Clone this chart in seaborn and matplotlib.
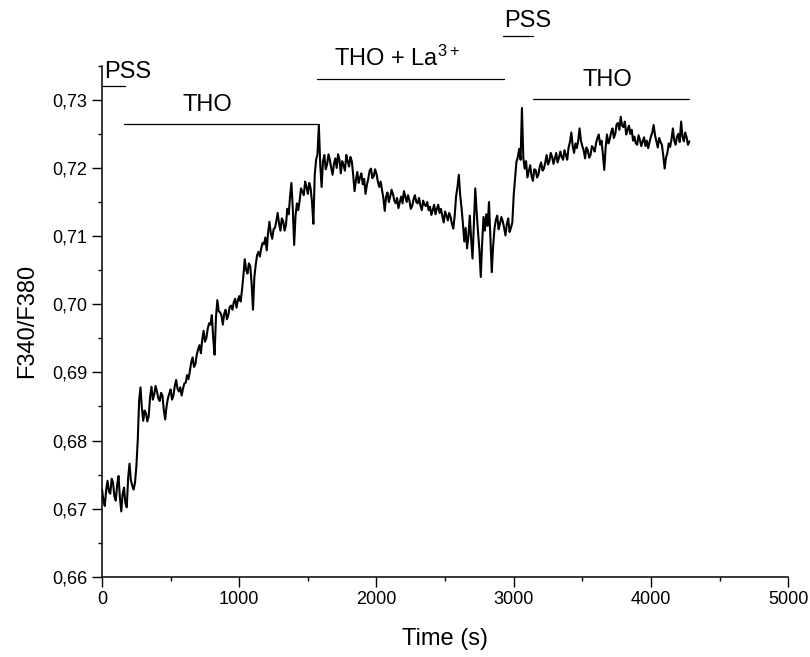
import numpy as np
import pandas as pd
import seaborn as sns
import matplotlib.pyplot as plt
from matplotlib.ticker import FuncFormatter, MultipleLocator

time_s = [
    0, 10, 20, 30, 40, 50, 60, 70, 80, 90, 100, 110, 120, 130, 140, 150, 160, 170, 180, 190,
    200, 210, 220, 230, 240, 250, 260, 270, 280, 290, 300, 310, 320, 330, 340, 350, 360, 370, 380, 390,
    400, 410, 420, 430, 440, 450, 460, 470, 480, 490, 500, 510, 520, 530, 540, 550, 560, 570, 580, 590,
    600, 610, 620, 630, 640, 650, 660, 670, 680, 690, 700, 710, 720, 730, 740, 750, 760, 770, 780, 790,
    800, 810, 820, 830, 840, 850, 860, 870, 880, 890, 900, 910, 920, 930, 940, 950, 960, 970, 980, 990,
    1000, 1010, 1020, 1030, 1040, 1050, 1060, 1070, 1080, 1090, 1100, 1110, 1120, 1130, 1140, 1150, 1160, 1170, 1180, 1190,
    1200, 1210, 1220, 1230, 1240, 1250, 1260, 1270, 1280, 1290, 1300, 1310, 1320, 1330, 1340, 1350, 1360, 1370, 1380, 1390,
    1400, 1410, 1420, 1430, 1440, 1450, 1460, 1470, 1480, 1490, 1500, 1510, 1520, 1530, 1540, 1550, 1560, 1570, 1580, 1590,
    1600, 1610, 1620, 1630, 1640, 1650, 1660, 1670, 1680, 1690, 1700, 1710, 1720, 1730, 1740, 1750, 1760, 1770, 1780, 1790,
    1800, 1810, 1820, 1830, 1840, 1850, 1860, 1870, 1880, 1890, 1900, 1910, 1920, 1930, 1940, 1950, 1960, 1970, 1980, 1990,
    2000, 2010, 2020, 2030, 2040, 2050, 2060, 2070, 2080, 2090, 2100, 2110, 2120, 2130, 2140, 2150, 2160, 2170, 2180, 2190,
    2200, 2210, 2220, 2230, 2240, 2250, 2260, 2270, 2280, 2290, 2300, 2310, 2320, 2330, 2340, 2350, 2360, 2370, 2380, 2390,
    2400, 2410, 2420, 2430, 2440, 2450, 2460, 2470, 2480, 2490, 2500, 2510, 2520, 2530, 2540, 2550, 2560, 2570, 2580, 2590,
    2600, 2610, 2620, 2630, 2640, 2650, 2660, 2670, 2680, 2690, 2700, 2710, 2720, 2730, 2740, 2750, 2760, 2770, 2780, 2790,
    2800, 2810, 2820, 2830, 2840, 2850, 2860, 2870, 2880, 2890, 2900, 2910, 2920, 2930, 2940, 2950, 2960, 2970, 2980, 2990,
    3000, 3010, 3020, 3030, 3040, 3050, 3060, 3070, 3080, 3090, 3100, 3110, 3120, 3130, 3140, 3150, 3160, 3170, 3180, 3190,
    3200, 3210, 3220, 3230, 3240, 3250, 3260, 3270, 3280, 3290, 3300, 3310, 3320, 3330, 3340, 3350, 3360, 3370, 3380, 3390,
    3400, 3410, 3420, 3430, 3440, 3450, 3460, 3470, 3480, 3490, 3500, 3510, 3520, 3530, 3540, 3550, 3560, 3570, 3580, 3590,
    3600, 3610, 3620, 3630, 3640, 3650, 3660, 3670, 3680, 3690, 3700, 3710, 3720, 3730, 3740, 3750, 3760, 3770, 3780, 3790,
    3800, 3810, 3820, 3830, 3840, 3850, 3860, 3870, 3880, 3890, 3900, 3910, 3920, 3930, 3940, 3950, 3960, 3970, 3980, 3990,
    4000, 4010, 4020, 4030, 4040, 4050, 4060, 4070, 4080, 4090, 4100, 4110, 4120, 4130, 4140, 4150, 4160, 4170, 4180, 4190,
    4200, 4210, 4220, 4230, 4240, 4250, 4260, 4270, 4280,
]
ratio = [
    0.6728, 0.6712, 0.6704, 0.6728, 0.6741, 0.6725, 0.6722, 0.6744, 0.6738, 0.6718, 0.6712, 0.6735, 0.6748, 0.6716, 0.6696, 0.6722, 0.6731, 0.6708, 0.6702, 0.6745,
    0.6766, 0.6742, 0.6734, 0.6728, 0.6738, 0.6762, 0.6800, 0.6858, 0.6878, 0.6848, 0.6829, 0.6844, 0.6840, 0.6828, 0.6836, 0.6864, 0.6879, 0.6860, 0.6868, 0.6880,
    0.6872, 0.6862, 0.6858, 0.6870, 0.6866, 0.6845, 0.6831, 0.6850, 0.6862, 0.6869, 0.6875, 0.6860, 0.6866, 0.6880, 0.6889, 0.6876, 0.6872, 0.6878, 0.6866, 0.6876,
    0.6884, 0.6885, 0.6896, 0.6890, 0.6902, 0.6915, 0.6922, 0.6908, 0.6912, 0.6926, 0.6934, 0.6940, 0.6928, 0.6948, 0.6961, 0.6945, 0.6950, 0.6964, 0.6972, 0.6970,
    0.6984, 0.6950, 0.6926, 0.6980, 0.7006, 0.6990, 0.6988, 0.6984, 0.6970, 0.6986, 0.6992, 0.6978, 0.6984, 0.6996, 0.6998, 0.6992, 0.7003, 0.7008, 0.6995, 0.7006,
    0.7012, 0.7004, 0.7021, 0.7042, 0.7066, 0.7050, 0.7045, 0.7060, 0.7056, 0.7030, 0.6992, 0.7040, 0.7058, 0.7072, 0.7077, 0.7070, 0.7082, 0.7090, 0.7088, 0.7098,
    0.7079, 0.7105, 0.7121, 0.7104, 0.7096, 0.7110, 0.7112, 0.7122, 0.7134, 0.7118, 0.7108, 0.7126, 0.7122, 0.7108, 0.7116, 0.7140, 0.7132, 0.7158, 0.7178, 0.7140,
    0.7087, 0.7130, 0.7148, 0.7138, 0.7152, 0.7170, 0.7165, 0.7160, 0.7180, 0.7172, 0.7162, 0.7178, 0.7170, 0.7150, 0.7118, 0.7190, 0.7212, 0.7220, 0.7263, 0.7205,
    0.7172, 0.7210, 0.7219, 0.7198, 0.7205, 0.7220, 0.7212, 0.7200, 0.7190, 0.7206, 0.7214, 0.7200, 0.7220, 0.7212, 0.7192, 0.7210, 0.7204, 0.7196, 0.7219, 0.7210,
    0.7202, 0.7216, 0.7210, 0.7190, 0.7166, 0.7182, 0.7194, 0.7178, 0.7186, 0.7192, 0.7176, 0.7184, 0.7162, 0.7175, 0.7184, 0.7196, 0.7199, 0.7185, 0.7188, 0.7198,
    0.7191, 0.7180, 0.7172, 0.7180, 0.7168, 0.7156, 0.7137, 0.7158, 0.7164, 0.7150, 0.7158, 0.7168, 0.7162, 0.7152, 0.7148, 0.7156, 0.7141, 0.7150, 0.7158, 0.7148,
    0.7166, 0.7158, 0.7150, 0.7160, 0.7152, 0.7140, 0.7144, 0.7154, 0.7160, 0.7150, 0.7148, 0.7156, 0.7145, 0.7138, 0.7152, 0.7146, 0.7144, 0.7150, 0.7138, 0.7143,
    0.7131, 0.7138, 0.7146, 0.7132, 0.7140, 0.7146, 0.7134, 0.7140, 0.7129, 0.7120, 0.7136, 0.7130, 0.7123, 0.7134, 0.7128, 0.7118, 0.7111, 0.7130, 0.7158, 0.7172,
    0.7190, 0.7160, 0.7141, 0.7118, 0.7092, 0.7112, 0.7082, 0.7100, 0.7130, 0.7095, 0.7067, 0.7120, 0.7170, 0.7135, 0.7106, 0.7080, 0.7040, 0.7090, 0.7128, 0.7108,
    0.7132, 0.7115, 0.7150, 0.7100, 0.7047, 0.7085, 0.7111, 0.7124, 0.7130, 0.7110, 0.7118, 0.7128, 0.7122, 0.7112, 0.7101, 0.7118, 0.7126, 0.7106, 0.7112, 0.7120,
    0.7160, 0.7185, 0.7209, 0.7216, 0.7228, 0.7212, 0.7288, 0.7215, 0.7199, 0.7210, 0.7186, 0.7195, 0.7204, 0.7188, 0.7181, 0.7198, 0.7197, 0.7186, 0.7190, 0.7202,
    0.7208, 0.7196, 0.7199, 0.7208, 0.7219, 0.7205, 0.7210, 0.7222, 0.7216, 0.7206, 0.7214, 0.7222, 0.7208, 0.7215, 0.7224, 0.7216, 0.7212, 0.7226, 0.7219, 0.7212,
    0.7230, 0.7238, 0.7252, 0.7232, 0.7222, 0.7236, 0.7229, 0.7240, 0.7258, 0.7240, 0.7232, 0.7226, 0.7214, 0.7230, 0.7226, 0.7215, 0.7219, 0.7232, 0.7229, 0.7224,
    0.7236, 0.7244, 0.7249, 0.7234, 0.7240, 0.7220, 0.7197, 0.7230, 0.7249, 0.7236, 0.7242, 0.7252, 0.7258, 0.7244, 0.7250, 0.7264, 0.7266, 0.7256, 0.7275, 0.7262,
    0.7260, 0.7268, 0.7249, 0.7256, 0.7262, 0.7250, 0.7256, 0.7240, 0.7246, 0.7236, 0.7234, 0.7248, 0.7241, 0.7232, 0.7239, 0.7245, 0.7232, 0.7240, 0.7229, 0.7238,
    0.7246, 0.7252, 0.7263, 0.7248, 0.7239, 0.7230, 0.7244, 0.7238, 0.7234, 0.7218, 0.7199, 0.7215, 0.7222, 0.7236, 0.7231, 0.7242, 0.7258, 0.7240, 0.7234, 0.7246,
    0.7250, 0.7238, 0.7268, 0.7246, 0.7239, 0.7252, 0.7245, 0.7234, 0.7239,
]

# application bars above the trace
bar_labels = ["PSS", "THO", "THO + La$^{3+}$", "PSS", "THO"]
bar_start = [0, 160, 1570, 2925, 3140]
bar_end = [170, 1580, 2930, 3140, 4280]
bar_level = [0.7320, 0.7265, 0.7331, 0.7393, 0.7301]
text_level = [0.7332, 0.7283, 0.7350, 0.7407, 0.7320]
text_x = [15, 766, 2150, 3100, 3686]

df = pd.DataFrame({"Time (s)": time_s, "F340/F380": ratio})

sns.set_style("ticks")
plt.rcParams["font.family"] = ["Liberation Sans", "DejaVu Sans"]
plt.rcParams.update({
    "text.color": "black", "axes.labelcolor": "black",
    "xtick.color": "black", "ytick.color": "black",
    "mathtext.fontset": "custom", "mathtext.rm": "Liberation Sans",
    "mathtext.it": "Liberation Sans:italic",
})

fig = plt.figure(figsize=(8.1, 6.57), dpi=100)
ax = fig.add_axes([0.126, 0.122, 0.847, 0.778])

sns.lineplot(data=df, x="Time (s)", y="F340/F380", ax=ax, color="black", linewidth=1.5)

for lab, s, e, lv, tl, tx in zip(bar_labels, bar_start, bar_end, bar_level, text_level, text_x):
    ax.plot([s, e], [lv, lv], color="black", linewidth=0.9, clip_on=False)
    ha = "left" if tx == 15 else "center"
    ax.text(tx, tl, lab, ha=ha, va="baseline", fontsize=17, clip_on=False)

ax.set_xlim(0, 5000)
ax.set_ylim(0.66, 0.735)
ax.xaxis.set_major_locator(MultipleLocator(1000))
ax.xaxis.set_minor_locator(MultipleLocator(500))
ax.yaxis.set_major_locator(MultipleLocator(0.01))
ax.yaxis.set_minor_locator(MultipleLocator(0.005))
ax.yaxis.set_major_formatter(FuncFormatter(lambda v, p: f"{v:.2f}".replace(".", ",")))
ax.tick_params(which="major", length=7, width=1, labelsize=13)
ax.tick_params(which="minor", length=3.2, width=1)
ax.set_xlabel("Time (s)", fontsize=17, labelpad=14)
ax.set_ylabel("F340/F380", fontsize=17, labelpad=10)
for sp in ["left", "bottom"]:
    ax.spines[sp].set_color("black")
    ax.spines[sp].set_linewidth(1.1)
sns.despine(ax=ax)

fig.savefig("out.png", dpi=100)
